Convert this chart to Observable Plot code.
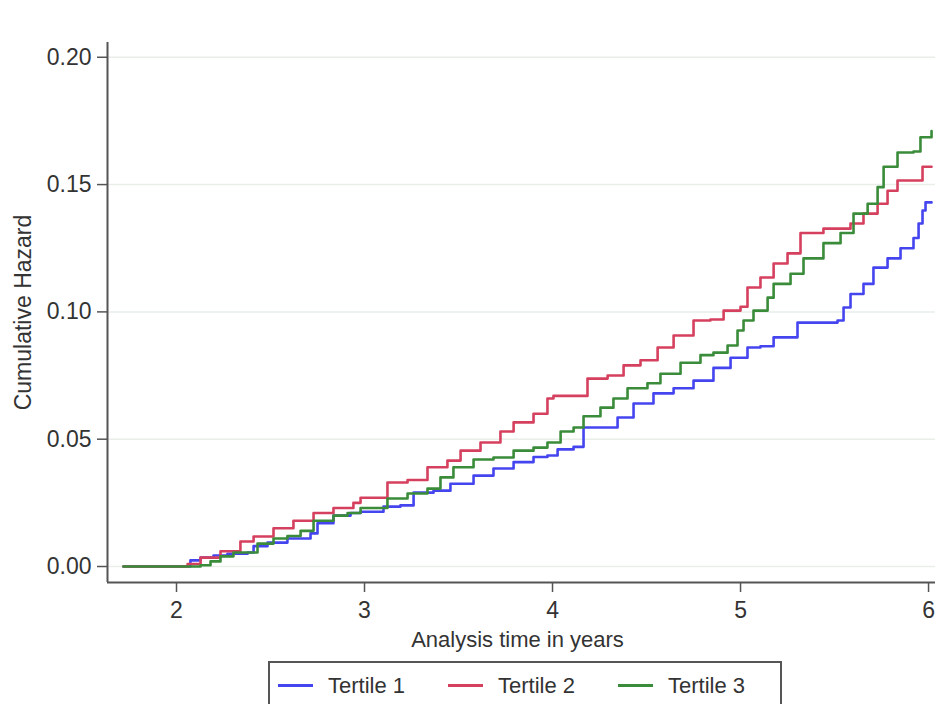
<!DOCTYPE html>
<html>
<head>
<meta charset="utf-8">
<script src="https://cdn.jsdelivr.net/npm/d3@7"></script>
<script src="https://cdn.jsdelivr.net/npm/@observablehq/plot@0.6"></script>
<style>
  html, body { margin: 0; padding: 0; background: #fff; }
  body { width: 939px; height: 704px; position: relative; overflow: hidden; font-family: "Liberation Sans", Arial, sans-serif; }
  #chart { position: absolute; left: 0; top: 0; }
  #panel { position: absolute; left: 14px; top: -24px; font: bold 40px "Liberation Sans", Arial, sans-serif; color: #111; }
  #legend { position: absolute; left: 268px; top: 661px; width: 514px; height: 60px; border: 2px solid #555; box-sizing: border-box; background: #fff; }
  .item { position: absolute; top: 10px; font-size: 22px; color: #333; white-space: nowrap; }
  .sw { display: inline-block; width: 35px; height: 0; border-top: 3px solid; vertical-align: middle; margin-right: 15px; position: relative; top: -2px; }
</style>
</head>
<body>
<div id="panel">J</div>
<div id="chart"></div>
<div id="legend"></div>
<script>
// ---- Data ----
const seriesNames = ["Tertile 1", "Tertile 2", "Tertile 3"];
const seriesColors = ["#4545f0", "#d6405f", "#3a8c3a"];

const t1x = [1.718, 1.984, 2.074, 2.128, 2.197, 2.271, 2.378, 2.410, 2.484, 2.590, 2.686, 2.713, 2.750, 2.835, 2.926, 2.979, 3.101, 3.191, 3.261, 3.367, 3.457, 3.580, 3.686, 3.793, 3.899, 3.973, 4.027, 4.112, 4.165, 4.293, 4.346, 4.431, 4.537, 4.644, 4.750, 4.856, 4.947, 5.037, 5.106, 5.176, 5.303, 5.516, 5.548, 5.585, 5.654, 5.707, 5.782, 5.851, 5.920, 5.947, 5.968, 5.984, 6.016];
const t1y = [0, 0, 0.0024, 0.0035, 0.0043, 0.005, 0.0055, 0.008, 0.0094, 0.011, 0.011, 0.013, 0.017, 0.020, 0.021, 0.0215, 0.0235, 0.024, 0.029, 0.0298, 0.0325, 0.0357, 0.0385, 0.041, 0.043, 0.0436, 0.046, 0.047, 0.0546, 0.0546, 0.0585, 0.064, 0.068, 0.070, 0.073, 0.078, 0.082, 0.086, 0.0865, 0.090, 0.0958, 0.0966, 0.1017, 0.107, 0.111, 0.1174, 0.121, 0.125, 0.129, 0.1347, 0.1398, 0.143, 0.143];

const t2x = [1.718, 1.968, 2.059, 2.128, 2.234, 2.340, 2.410, 2.516, 2.622, 2.729, 2.835, 2.941, 2.979, 3.122, 3.229, 3.335, 3.441, 3.511, 3.617, 3.723, 3.793, 3.899, 3.973, 4.005, 4.096, 4.186, 4.293, 4.378, 4.468, 4.559, 4.644, 4.750, 4.840, 4.910, 5.000, 5.037, 5.106, 5.176, 5.250, 5.319, 5.441, 5.585, 5.654, 5.729, 5.782, 5.835, 5.941, 5.968, 6.016];
const t2y = [0, 0, 0.001, 0.0035, 0.006, 0.0098, 0.0118, 0.015, 0.018, 0.021, 0.023, 0.025, 0.027, 0.033, 0.034, 0.039, 0.0416, 0.0455, 0.0487, 0.053, 0.0566, 0.060, 0.066, 0.067, 0.067, 0.0738, 0.075, 0.079, 0.081, 0.086, 0.0907, 0.0966, 0.097, 0.1005, 0.102, 0.1096, 0.1135, 0.119, 0.123, 0.131, 0.1327, 0.1347, 0.1386, 0.1425, 0.1476, 0.1516, 0.1516, 0.157, 0.157];

const t3x = [1.718, 2.128, 2.181, 2.234, 2.303, 2.378, 2.431, 2.516, 2.590, 2.660, 2.729, 2.835, 2.910, 2.979, 3.122, 3.229, 3.335, 3.404, 3.473, 3.580, 3.686, 3.793, 3.899, 3.973, 4.043, 4.112, 4.165, 4.255, 4.324, 4.399, 4.505, 4.574, 4.681, 4.787, 4.856, 4.931, 4.984, 5.016, 5.069, 5.144, 5.176, 5.266, 5.335, 5.441, 5.532, 5.601, 5.676, 5.729, 5.761, 5.835, 5.920, 5.957, 6.016];
const t3y = [0, 0.0005, 0.002, 0.004, 0.0055, 0.0055, 0.009, 0.011, 0.012, 0.014, 0.018, 0.020, 0.021, 0.023, 0.0267, 0.0287, 0.0306, 0.035, 0.039, 0.042, 0.0428, 0.0455, 0.0467, 0.0487, 0.053, 0.0546, 0.059, 0.0624, 0.066, 0.070, 0.072, 0.0757, 0.080, 0.083, 0.084, 0.0868, 0.0927, 0.0966, 0.1005, 0.1056, 0.111, 0.115, 0.121, 0.127, 0.131, 0.1386, 0.1425, 0.149, 0.157, 0.1626, 0.163, 0.1686, 0.171];

const yTicks = [0, 0.05, 0.10, 0.15, 0.20];
const xTicks = [2, 3, 4, 5, 6];
const xTitle = "Analysis time in years";
const yTitle = "Cumulative Hazard";

// ---- Build table ----
const xs = [t1x, t2x, t3x], ys = [t1y, t2y, t3y];
const rows = [];
seriesNames.forEach((name, i) => xs[i].forEach((x, j) => rows.push({series: name, x, y: ys[i][j]})));

const xDomain = [1.633, 6.037];
const yDomain = [-0.00628, 0.2058];
const axisColor = "#555";
const textColor = "#333";

const chart = Plot.plot({
  width: 939,
  height: 655,
  marginLeft: 107,
  marginRight: 4,
  marginTop: 42,
  marginBottom: 73,
  style: {fontFamily: "'Liberation Sans', Arial, sans-serif", color: textColor, background: "#fff"},
  x: {domain: xDomain, label: null},
  y: {domain: yDomain, label: null},
  color: {domain: seriesNames, range: seriesColors},
  marks: [
    Plot.gridY(yTicks, {stroke: "#e9eee9", strokeOpacity: 1, strokeWidth: 1.5}),
    Plot.ruleX([xDomain[0]], {stroke: axisColor, strokeWidth: 2}),
    Plot.ruleY([yDomain[0]], {stroke: axisColor, strokeWidth: 2}),
    Plot.axisY(yTicks, {tickFormat: d3.format(".2f"), tickSize: 10, tickPadding: 6, fontSize: 23, stroke: axisColor, strokeWidth: 1.5, fill: textColor, label: null}),
    Plot.axisX(xTicks, {tickFormat: d => String(d), tickSize: 10, tickPadding: 9, fontSize: 23, stroke: axisColor, strokeWidth: 1.5, fill: textColor, label: null}),
    Plot.line(rows, {x: "x", y: "y", z: "series", stroke: "series", curve: "step-after", strokeWidth: 2.6}),
    Plot.text([xTitle], {frameAnchor: "bottom", dy: 64, fontSize: 22, fill: textColor, dx: -4}),
    Plot.text([yTitle], {frameAnchor: "left", dx: -84, rotate: -90, fontSize: 23, fill: textColor, textAnchor: "middle"})
  ]
});
document.getElementById("chart").appendChild(chart);

// ---- Legend ----
const legend = document.getElementById("legend");
const itemLeft = [8, 178, 348];
seriesNames.forEach((name, i) => {
  const el = document.createElement("div");
  el.className = "item";
  el.style.left = itemLeft[i] + "px";
  el.innerHTML = `<span class="sw" style="border-color:${seriesColors[i]}"></span>${name}`;
  legend.appendChild(el);
});
</script>
</body>
</html>
